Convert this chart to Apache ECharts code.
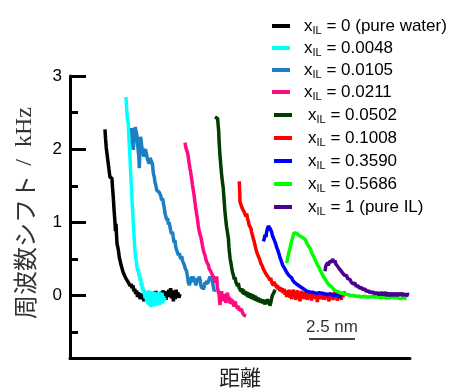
<!DOCTYPE html>
<html>
<head>
<meta charset="utf-8">
<script src="https://cdn.jsdelivr.net/npm/echarts@6/dist/echarts.min.js"></script>
<style>
  html, body { margin: 0; padding: 0; background: #fff; }
  #main { width: 458px; height: 388px; }
</style>
</head>
<body>
<div id="main"></div>
<script>
// x: distance in nm, y: frequency shift in kHz
var names = ['x_IL = 0 (pure water)', 'x_IL = 0.0048', 'x_IL = 0.0105', 'x_IL = 0.0211',
             'x_IL = 0.0502', 'x_IL = 0.1008', 'x_IL = 0.3590', 'x_IL = 0.5686', 'x_IL = 1 (pure IL)'];
var colors = ['#000000', '#00ffff', '#1b7fc1', '#ff0a82', '#003d00', '#ff0000', '#0000ff', '#00ff00', '#4b0090'];

var water = [[1.90,2.27],[1.93,2.15],[1.97,2.02],[2.02,1.92],[2.08,1.80],[2.13,1.70],[2.17,1.62],[2.22,1.64],[2.28,1.60],[2.31,1.48],[2.35,1.35],[2.40,1.15],[2.44,1.02],[2.47,0.88],[2.50,0.98],[2.53,0.82],[2.56,0.70],[2.60,0.66],[2.64,0.60],[2.68,0.52],[2.72,0.48],[2.77,0.42],[2.82,0.38],[2.87,0.33],[2.92,0.34],[2.97,0.27],[3.02,0.29],[3.07,0.22],[3.12,0.24],[3.17,0.18],[3.22,0.20],[3.27,0.13],[3.32,0.16],[3.37,0.10],[3.42,0.14],[3.47,0.06],[3.52,0.09],[3.57,0.02],[3.62,0.07],[3.67,-0.02],[3.72,0.04],[3.77,0.00],[3.82,-0.05],[3.87,0.03],[3.92,-0.04],[3.97,0.01],[4.02,-0.08],[4.07,-0.02],[4.12,0.04],[4.17,-0.06],[4.22,0.00],[4.27,-0.09],[4.32,-0.03],[4.37,0.02],[4.42,-0.05],[4.47,0.03],[4.52,-0.04],[4.57,0.05],[4.62,-0.02],[4.67,0.06],[4.72,-0.01],[4.77,0.04],[4.82,-0.06],[4.87,0.02],[4.92,-0.04],[4.97,0.05],[5.02,0.00],[5.07,0.07],[5.12,-0.03],[5.17,0.04],[5.22,-0.06],[5.27,0.06],[5.32,-0.02],[5.37,0.08],[5.42,0.00],[5.47,0.10],[5.52,-0.04],[5.57,0.07],[5.62,-0.08],[5.67,0.05],[5.72,-0.05],[5.77,0.08],[5.82,-0.02],[5.87,0.04],[5.92,-0.03],[5.98,0.02]];

var x0048 = [[3.04,2.71],[3.07,2.60],[3.10,2.48],[3.13,2.40],[3.17,2.35],[3.19,2.22],[3.22,2.08],[3.24,1.98],[3.26,1.90],[3.28,1.76],[3.31,1.62],[3.33,1.52],[3.35,1.44],[3.37,1.30],[3.40,1.18],[3.42,1.08],[3.44,0.99],[3.47,0.86],[3.50,0.74],[3.53,0.62],[3.56,0.60],[3.58,0.50],[3.61,0.47],[3.63,0.40],[3.66,0.42],[3.69,0.33],[3.72,0.36],[3.75,0.26],[3.78,0.30],[3.81,0.20],[3.84,0.24],[3.87,0.13],[3.90,0.18],[3.93,0.08],[3.96,0.12],[4.00,0.02],[4.04,0.08],[4.08,-0.04],[4.12,0.06],[4.16,-0.09],[4.20,0.05],[4.24,-0.12],[4.28,0.07],[4.32,-0.14],[4.36,0.03],[4.40,-0.16],[4.44,0.06],[4.48,-0.12],[4.52,0.02],[4.56,-0.15],[4.60,0.05],[4.64,-0.11],[4.68,0.04],[4.72,-0.14],[4.76,0.03],[4.80,-0.10],[4.84,0.05],[4.88,-0.13],[4.92,0.02],[4.96,-0.08],[5.00,0.04],[5.04,-0.11],[5.08,-0.01],[5.12,-0.07],[5.16,-0.03]];

var x0105 = [[3.35,2.29],[3.40,2.10],[3.44,1.99],[3.49,2.18],[3.54,2.30],[3.59,2.31],[3.63,2.20],[3.67,2.08],[3.71,2.10],[3.74,1.90],[3.77,1.74],[3.80,1.98],[3.84,2.17],[3.88,2.08],[3.92,1.98],[3.95,2.02],[3.98,1.94],[4.02,1.90],[4.06,1.96],[4.10,2.00],[4.13,1.99],[4.17,1.92],[4.21,1.86],[4.26,1.83],[4.30,1.80],[4.35,1.88],[4.40,1.90],[4.44,1.90],[4.48,1.80],[4.53,1.67],[4.58,1.62],[4.62,1.55],[4.67,1.50],[4.71,1.44],[4.76,1.42],[4.81,1.45],[4.85,1.41],[4.89,1.40],[4.94,1.36],[4.98,1.30],[5.03,1.33],[5.07,1.31],[5.12,1.20],[5.17,1.12],[5.21,1.08],[5.26,1.03],[5.30,1.06],[5.35,0.97],[5.39,1.00],[5.43,0.94],[5.48,0.88],[5.52,0.84],[5.57,0.87],[5.61,0.80],[5.66,0.72],[5.70,0.76],[5.75,0.66],[5.80,0.62],[5.85,0.60],[5.89,0.55],[5.94,0.58],[5.98,0.53],[6.03,0.50],[6.07,0.54],[6.12,0.47],[6.16,0.49],[6.21,0.42],[6.25,0.38],[6.30,0.36],[6.34,0.33],[6.39,0.25],[6.43,0.18],[6.48,0.14],[6.52,0.12],[6.56,0.20],[6.61,0.26],[6.65,0.22],[6.70,0.26],[6.74,0.18],[6.79,0.22],[6.83,0.14],[6.88,0.17],[6.92,0.24],[6.97,0.20],[7.02,0.26],[7.07,0.22],[7.11,0.14],[7.16,0.10],[7.20,0.14],[7.25,0.08],[7.30,0.13],[7.34,0.18],[7.39,0.15],[7.43,0.20],[7.48,0.16],[7.52,0.19],[7.57,0.23],[7.61,0.26],[7.66,0.22],[7.70,0.26],[7.75,0.18],[7.79,0.12],[7.84,0.06],[7.88,0.08]];

var x0211 = [[6.25,2.09],[6.30,2.02],[6.35,1.98],[6.40,1.94],[6.43,1.92],[6.47,1.82],[6.52,1.74],[6.56,1.68],[6.61,1.60],[6.65,1.52],[6.70,1.44],[6.74,1.38],[6.79,1.28],[6.83,1.20],[6.88,1.12],[6.92,1.06],[6.97,0.96],[7.01,0.90],[7.06,0.84],[7.11,0.80],[7.16,0.74],[7.20,0.68],[7.25,0.62],[7.29,0.58],[7.34,0.55],[7.38,0.50],[7.43,0.46],[7.47,0.44],[7.52,0.42],[7.56,0.37],[7.61,0.36],[7.65,0.33],[7.70,0.33],[7.74,0.28],[7.79,0.30],[7.83,0.24],[7.88,0.24],[7.92,0.18],[7.97,0.26],[8.01,0.12],[8.06,0.05],[8.10,0.02],[8.15,-0.13],[8.19,-0.02],[8.24,0.06],[8.28,-0.06],[8.33,0.01],[8.37,-0.08],[8.42,0.02],[8.47,-0.10],[8.52,-0.04],[8.56,0.04],[8.61,-0.07],[8.65,-0.02],[8.70,-0.11],[8.74,-0.04],[8.79,-0.12],[8.83,-0.06],[8.88,-0.08],[8.92,-0.15],[8.97,-0.08],[9.01,-0.12],[9.06,-0.13],[9.10,-0.18],[9.15,-0.14],[9.19,-0.20],[9.24,-0.18],[9.28,-0.22],[9.33,-0.19],[9.38,-0.24],[9.42,-0.22],[9.47,-0.27],[9.51,-0.25],[9.57,-0.28]];

var x0502 = [[7.88,2.44],[7.95,2.44],[8.02,2.42],[8.06,2.40],[8.08,2.25],[8.11,2.08],[8.15,1.92],[8.19,1.80],[8.23,1.68],[8.28,1.56],[8.33,1.47],[8.36,1.36],[8.39,1.26],[8.42,1.15],[8.46,1.05],[8.51,0.94],[8.56,0.86],[8.61,0.78],[8.64,0.66],[8.67,0.58],[8.70,0.51],[8.75,0.44],[8.80,0.36],[8.84,0.31],[8.88,0.28],[8.93,0.22],[8.97,0.25],[9.02,0.18],[9.06,0.19],[9.11,0.13],[9.15,0.17],[9.20,0.10],[9.24,0.12],[9.29,0.06],[9.33,0.10],[9.38,0.03],[9.42,0.08],[9.47,0.01],[9.51,0.06],[9.56,0.00],[9.60,0.05],[9.65,-0.02],[9.69,0.04],[9.74,-0.03],[9.78,0.03],[9.83,-0.04],[9.87,0.02],[9.92,-0.05],[9.96,0.01],[10.01,-0.06],[10.05,0.00],[10.10,-0.07],[10.14,-0.02],[10.19,-0.08],[10.23,-0.03],[10.28,-0.09],[10.33,-0.04],[10.37,-0.10],[10.42,-0.05],[10.46,-0.11],[10.51,-0.06],[10.55,-0.08],[10.60,-0.12],[10.64,-0.07],[10.69,-0.10],[10.73,-0.05],[10.78,-0.12],[10.82,-0.06],[10.87,-0.14],[10.91,-0.10],[10.96,-0.04],[11.00,0.00],[11.05,0.01],[11.10,0.05],[11.14,0.08]];

var x1008 = [[9.20,1.56],[9.22,1.45],[9.24,1.28],[9.28,1.25],[9.33,1.24],[9.38,1.18],[9.42,1.20],[9.47,1.14],[9.51,1.15],[9.56,1.08],[9.60,1.12],[9.65,1.05],[9.69,1.02],[9.74,0.96],[9.78,0.98],[9.83,0.92],[9.87,0.87],[9.92,0.82],[9.96,0.78],[10.01,0.74],[10.05,0.69],[10.10,0.64],[10.14,0.60],[10.19,0.58],[10.23,0.54],[10.28,0.52],[10.33,0.48],[10.37,0.44],[10.42,0.42],[10.46,0.40],[10.51,0.36],[10.55,0.37],[10.60,0.32],[10.64,0.34],[10.69,0.28],[10.73,0.30],[10.78,0.25],[10.82,0.27],[10.87,0.21],[10.91,0.24],[10.96,0.18],[11.00,0.20],[11.05,0.14],[11.10,0.19],[11.14,0.13],[11.19,0.16],[11.23,0.10],[11.28,0.14],[11.32,0.08],[11.37,0.12],[11.41,0.06],[11.46,0.11],[11.50,0.05],[11.55,0.10],[11.59,0.03],[11.64,0.09],[11.69,0.01],[11.73,0.07],[11.78,-0.02],[11.82,0.06],[11.87,0.00],[11.91,0.08],[11.96,-0.03],[12.00,0.05],[12.05,-0.05],[12.09,0.04],[12.14,0.08],[12.18,-0.02],[12.23,0.05],[12.27,-0.06],[12.32,0.03],[12.36,0.07],[12.41,-0.04],[12.45,0.04],[12.50,-0.08],[12.54,0.02],[12.59,0.06],[12.63,-0.03],[12.68,0.05],[12.72,-0.05],[12.77,0.03],[12.81,-0.02],[12.86,0.06],[12.90,-0.06],[12.95,0.02],[12.99,0.05],[13.04,-0.04],[13.08,0.03],[13.13,-0.07],[13.17,0.01],[13.22,0.05],[13.26,-0.03],[13.31,0.04],[13.35,-0.05],[13.40,0.02],[13.44,-0.09],[13.49,0.03],[13.53,-0.02],[13.58,0.04],[13.62,-0.05],[13.67,0.02],[13.71,-0.03],[13.76,0.05],[13.80,-0.06],[13.85,0.01],[13.89,-0.02],[13.94,0.04],[13.98,-0.05],[14.03,0.02],[14.07,-0.08],[14.12,0.00],[14.16,0.04],[14.21,-0.04],[14.25,0.02],[14.30,-0.06],[14.34,0.01],[14.39,0.05],[14.43,-0.03],[14.48,0.02],[14.52,-0.07],[14.57,0.00],[14.61,0.04],[14.66,-0.04],[14.70,0.01],[14.75,-0.06],[14.79,0.03],[14.84,-0.02],[14.88,0.05],[14.95,0.02]];

var x3590 = [[10.51,0.74],[10.56,0.78],[10.60,0.83],[10.65,0.80],[10.69,0.87],[10.74,0.92],[10.78,0.95],[10.82,0.96],[10.87,0.92],[10.91,0.90],[10.96,0.87],[11.00,0.82],[11.05,0.79],[11.10,0.76],[11.14,0.74],[11.19,0.70],[11.23,0.66],[11.28,0.63],[11.32,0.60],[11.37,0.56],[11.41,0.52],[11.46,0.50],[11.50,0.46],[11.55,0.42],[11.59,0.40],[11.64,0.38],[11.69,0.36],[11.73,0.34],[11.78,0.33],[11.82,0.30],[11.87,0.29],[11.91,0.27],[11.96,0.26],[12.00,0.25],[12.05,0.24],[12.10,0.21],[12.15,0.20],[12.20,0.18],[12.25,0.17],[12.30,0.16],[12.35,0.15],[12.41,0.14],[12.46,0.13],[12.52,0.12],[12.58,0.11],[12.64,0.10],[12.70,0.09],[12.78,0.07],[12.86,0.06],[12.95,0.06],[13.04,0.05],[13.13,0.05],[13.25,0.04],[13.40,0.03],[13.55,0.04],[13.70,0.03],[13.85,0.02],[14.00,0.01],[14.15,0.02],[14.30,0.00],[14.45,0.01],[14.60,-0.01],[14.77,-0.02]];

var x5686 = [[11.78,0.44],[11.82,0.50],[11.87,0.56],[11.91,0.60],[11.96,0.65],[12.00,0.70],[12.05,0.75],[12.10,0.79],[12.14,0.83],[12.19,0.86],[12.23,0.87],[12.28,0.86],[12.32,0.85],[12.37,0.84],[12.41,0.84],[12.46,0.82],[12.50,0.83],[12.55,0.81],[12.59,0.80],[12.64,0.80],[12.68,0.79],[12.73,0.78],[12.77,0.78],[12.82,0.75],[12.86,0.72],[12.91,0.70],[12.95,0.68],[13.00,0.66],[13.04,0.65],[13.09,0.62],[13.13,0.59],[13.18,0.56],[13.22,0.55],[13.27,0.52],[13.32,0.51],[13.36,0.47],[13.41,0.45],[13.45,0.42],[13.50,0.40],[13.54,0.38],[13.59,0.37],[13.63,0.33],[13.68,0.31],[13.72,0.29],[13.77,0.26],[13.81,0.25],[13.86,0.24],[13.90,0.21],[13.95,0.19],[14.00,0.17],[14.05,0.15],[14.10,0.14],[14.16,0.13],[14.22,0.12],[14.28,0.10],[14.34,0.08],[14.40,0.07],[14.46,0.06],[14.52,0.05],[14.58,0.05],[14.66,0.04],[14.75,0.03],[14.85,0.02],[14.95,0.02],[15.05,0.01],[15.13,0.01],[15.25,0.00],[15.40,0.00],[15.55,-0.01],[15.70,-0.01],[15.85,-0.02],[16.00,-0.01],[16.15,-0.02],[16.30,-0.02],[16.45,-0.01],[16.58,-0.02],[16.75,-0.02],[16.90,-0.03],[17.05,-0.02],[17.20,-0.03],[17.35,-0.03],[17.50,-0.02],[17.65,-0.03],[17.80,-0.03],[17.95,-0.04],[18.10,-0.03],[18.20,-0.04],[18.30,-0.04]];

var pureIL = [[13.86,0.33],[13.90,0.40],[13.95,0.42],[14.00,0.45],[14.04,0.41],[14.09,0.46],[14.13,0.44],[14.18,0.48],[14.22,0.46],[14.27,0.50],[14.31,0.49],[14.36,0.45],[14.40,0.48],[14.45,0.43],[14.49,0.44],[14.54,0.40],[14.58,0.41],[14.63,0.37],[14.68,0.38],[14.72,0.34],[14.77,0.35],[14.81,0.31],[14.86,0.32],[14.90,0.28],[14.95,0.29],[15.00,0.26],[15.04,0.27],[15.09,0.23],[15.13,0.25],[15.18,0.21],[15.22,0.22],[15.27,0.19],[15.31,0.20],[15.36,0.16],[15.40,0.18],[15.45,0.15],[15.49,0.17],[15.54,0.13],[15.58,0.14],[15.63,0.11],[15.67,0.13],[15.72,0.10],[15.76,0.12],[15.81,0.09],[15.85,0.11],[15.90,0.08],[15.95,0.10],[16.00,0.07],[16.05,0.09],[16.10,0.05],[16.15,0.08],[16.20,0.04],[16.25,0.07],[16.30,0.03],[16.35,0.06],[16.40,0.03],[16.45,0.06],[16.50,0.02],[16.55,0.05],[16.60,0.01],[16.65,0.05],[16.70,0.02],[16.75,0.05],[16.80,0.00],[16.85,0.04],[16.90,0.01],[16.95,0.05],[17.00,0.00],[17.05,0.04],[17.10,0.01],[17.15,0.05],[17.20,-0.01],[17.25,0.04],[17.30,0.00],[17.35,0.04],[17.40,-0.01],[17.45,0.04],[17.50,0.00],[17.55,0.03],[17.60,-0.01],[17.65,0.04],[17.70,0.00],[17.75,0.03],[17.80,-0.01],[17.85,0.04],[17.90,0.00],[17.95,0.03],[18.00,0.00],[18.05,0.04],[18.10,-0.01],[18.15,0.03],[18.20,0.00],[18.25,0.03],[18.30,-0.01],[18.35,0.02],[18.42,0.01]];

var allData = [water, x0048, x0105, x0211, x0502, x1008, x3590, x5686, pureIL];

var yLabels = [0, 1, 2, 3];
var yMinor = [-0.5, 0.5, 1.5, 2.5];
var scaleBar = [[12.99, -0.595], [15.49, -0.595]];
var scaleText = [[14.24, -0.44]];

var font = 'Liberation Sans, Arial, sans-serif';

var series = names.map(function (n, i) {
    return {
        name: n,
        type: 'line',
        data: allData[i],
        showSymbol: false,
        symbol: 'none',
        lineStyle: { color: colors[i], width: 3.5 },
        itemStyle: { color: colors[i] },
        silent: true
    };
});
series.push({
    type: 'line',
    data: scaleBar,
    symbol: 'none',
    lineStyle: { color: '#000', width: 1.5 },
    silent: true
});
series.push({
    type: 'scatter',
    data: scaleText,
    symbolSize: 0,
    label: { show: true, position: 'inside', formatter: '2.5 nm', fontSize: 17, fontFamily: font, color: '#000' },
    silent: true
});

function legendOf(list, left, top, gap, pad) {
    return {
        data: list,
        orient: 'vertical',
        left: left,
        top: top,
        itemGap: gap,
        itemWidth: 18,
        itemHeight: 4,
        icon: 'rect',
        selectedMode: false,
        formatter: function (name) {
            return '{g| }x{s|IL}{t|' + name.replace('x_IL', '') + '}';
        },
        textStyle: {
            fontSize: 17,
            fontFamily: font,
            color: '#000',
            lineHeight: 20,
            rich: {
                g: { width: pad, fontSize: 17, lineHeight: 20 },
                s: { fontSize: 11, fontFamily: font, color: '#000', lineHeight: 20, padding: [9, 0, 0, 0] },
                t: { fontSize: 17, fontFamily: font, color: '#000', lineHeight: 20 }
            }
        }
    };
}

var myChart = echarts.init(document.getElementById('main'));
var option = {
    animation: false,
    grid: { left: 70, right: 48, top: 76, bottom: 30, outerBoundsMode: 'none' },
    legend: [
        legendOf(names.slice(0, 4), 267, 11, 2, 9),
        legendOf(names.slice(4), 269, 100, 3, 11)
    ],
    xAxis: {
        type: 'value',
        min: 0,
        max: 18.48,
        name: '距離',
        nameLocation: 'middle',
        nameGap: 9,
        nameTextStyle: { fontSize: 21, fontFamily: 'Noto Sans CJK JP', color: '#222', verticalAlign: 'top' },
        axisLine: { show: true, onZero: false, lineStyle: { color: '#000', width: 3 } },
        axisTick: { show: false },
        axisLabel: { show: false },
        splitLine: { show: false }
    },
    yAxis: [{
        type: 'value',
        min: -0.854,
        max: 3,
        name: '{c|周波数シフト} {k| /  kHz}',
        nameLocation: 'middle',
        nameRotate: 90,
        nameGap: 33,
        nameTextStyle: {
            padding: [0, 0, 0, 8],
            rich: {
                c: { fontSize: 24, fontFamily: 'Noto Sans CJK JP', color: '#333' },
                k: { fontSize: 24, fontFamily: 'Liberation Serif', color: '#333' }
            }
        },
        axisLine: { show: true, onZero: false, lineStyle: { color: '#000', width: 3 } },
        axisTick: { show: true, inside: true, length: 16, customValues: yLabels, lineStyle: { color: '#000', width: 3 } },
        axisLabel: { show: true, customValues: yLabels, margin: 8, fontSize: 17, fontFamily: font, color: '#000' },
        splitLine: { show: false }
    }, {
        type: 'value',
        min: -0.854,
        max: 3,
        position: 'left',
        axisLine: { show: false, onZero: false },
        axisTick: { show: true, inside: true, length: 8, customValues: yMinor, lineStyle: { color: '#000', width: 3 } },
        axisLabel: { show: false },
        splitLine: { show: false }
    }],
    series: series
};
myChart.setOption(option);
</script>
</body>
</html>
